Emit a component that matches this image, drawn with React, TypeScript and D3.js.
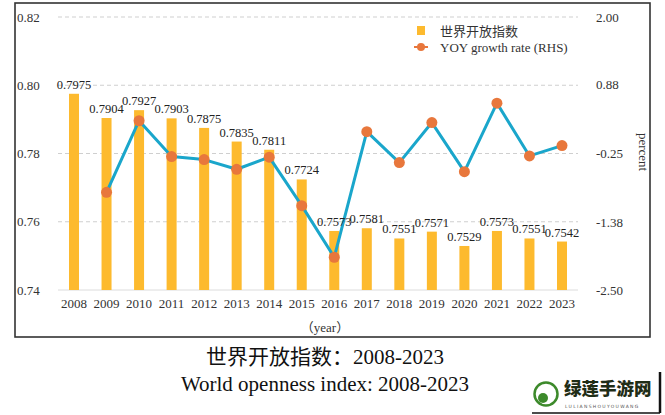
import React from "react";
import * as d3 from "d3";

const years = ["2008","2009","2010","2011","2012","2013","2014","2015","2016","2017","2018","2019","2020","2021","2022","2023"];
const indexValues = [0.7975,0.7904,0.7927,0.7903,0.7875,0.7835,0.7811,0.7724,0.7573,0.7581,0.7551,0.7571,0.7529,0.7573,0.7551,0.7542];
const growthYears = ["2009","2010","2011","2012","2013","2014","2015","2016","2017","2018","2019","2020","2021","2022","2023"];
const growthValues = [-0.89,0.29,-0.30,-0.35,-0.51,-0.31,-1.11,-1.96,0.11,-0.40,0.26,-0.55,0.58,-0.29,-0.12];
const leftTicks = [0.74,0.76,0.78,0.80,0.82];
const rightTicks = [-2.5,-1.38,-0.25,0.88,2.0];
const leftTickLabels = ["0.74","0.76","0.78","0.80","0.82"];
const rightTickLabels = ["-2.50","-1.38","-0.25","0.88","2.00"];

const W = 665, H = 415;
const serif = "'Liberation Serif', 'Times New Roman', 'Noto Sans CJK SC', serif";
const BAR = "#FDBA2E";
const LINE = "#1AA6CB";
const DOT = "#E8773C";

export default function App() {
  const x = d3.scalePoint<string>().domain(years).range([74, 562]);
  const yL = d3.scaleLinear().domain([0.74, 0.82]).range([290, 17]);
  const yR = d3.scaleLinear().domain([-2.5, 2.0]).range([290, 17]);
  const line = d3.line<number>()
    .x((_, i) => x(growthYears[i]) as number)
    .y((d) => yR(d));
  const barW = 10;

  return (
    <div style={{ position: "absolute", left: 0, top: 0 }}>
      <svg width={W} height={H} style={{ display: "block", background: "#fff" }}>
        <rect x={15} y={3} width={635} height={334} fill="none" stroke="#333" strokeWidth={1.6} />
        {leftTicks.map((t, i) => (
          <g key={"g" + i}>
            {i > 0 && (
              <line x1={58} x2={578} y1={yL(t)} y2={yL(t)} stroke="#cfcfcf" strokeDasharray="4 3" strokeWidth={1} />
            )}
            {i === 0 && (
              <line x1={58} x2={578} y1={yL(t)} y2={yL(t)} stroke="#dcdcdc" strokeWidth={1} />
            )}
            <text x={17} y={yL(t)} dy="0.35em" fontFamily={serif} fontSize={13} fill="#333">{leftTickLabels[i]}</text>
          </g>
        ))}
        {rightTicks.map((t, i) => (
          <text key={"r" + i} x={596} y={yR(t)} dy="0.35em" fontFamily={serif} fontSize={13} fill="#333">{rightTickLabels[i]}</text>
        ))}
        <text transform="translate(639,152) rotate(90)" textAnchor="middle" fontFamily={serif} fontSize={13} fill="#333">percent</text>
        {indexValues.map((v, i) => (
          <rect key={"b" + i} x={(x(years[i]) as number) - barW / 2} y={yL(v)} width={barW} height={yL(0.74) - yL(v)} fill={BAR} />
        ))}
        {years.map((yr) => (
          <text key={"x" + yr} x={x(yr) as number} y={303} dy="0.35em" textAnchor="middle" fontFamily={serif} fontSize={13} fill="#333">{yr}</text>
        ))}
        <path d={line(growthValues) || ""} fill="none" stroke={LINE} strokeWidth={3} strokeLinejoin="round" />
        {growthValues.map((v, i) => (
          <circle key={"c" + i} cx={x(growthYears[i]) as number} cy={yR(v)} r={5.5} fill={DOT} />
        ))}
        {indexValues.map((v, i) => (
          <text key={"l" + i} x={x(years[i]) as number} y={yL(v) - 5} textAnchor="middle" fontFamily={serif} fontSize={12.5} fill="#222">{v.toFixed(4)}</text>
        ))}
        <text x={325} y={327} dy="0.35em" textAnchor="middle" fontFamily={serif} fontSize={13} fill="#333">（year）</text>
        <rect x={417} y={26} width={8} height={9} fill={BAR} />
        <text x={440} y={31} dy="0.35em" fontFamily={serif} fontSize={13} fill="#333">世界开放指数</text>
        <line x1={414} x2={428} y1={47} y2={47} stroke={DOT} strokeWidth={2} />
        <circle cx={421} cy={47} r={4} fill={DOT} />
        <text x={440} y={47} dy="0.35em" fontFamily={serif} fontSize={13} fill="#333">YOY growth rate (RHS)</text>
        <text x={325} y={357} dy="0.35em" textAnchor="middle" fontFamily={serif} fontSize={21} fill="#111">世界开放指数：2008-2023</text>
        <text x={325} y={384} dy="0.35em" textAnchor="middle" fontFamily={serif} fontSize={21} fill="#111">World openness index: 2008-2023</text>
        <g>
          <line x1={532} x2={660} y1={413} y2={413} stroke="#111" strokeWidth={1.5} />
          <line x1={660} x2={660} y1={372} y2={413} stroke="#111" strokeWidth={2.5} />
          <circle cx={546} cy={394} r={11.5} fill="#fff" stroke="#3d8a2b" strokeWidth={2.5} />
          <circle cx={543} cy={398} r={5} fill="#3d8a2b" />
          <text x={564} y={389} dy="0.35em" fontFamily="'Noto Sans CJK SC', sans-serif" fontWeight={900} fontSize={17.5} fill="#1f2d16">绿莲手游网</text>
          <text x={565} y={406} dy="0.35em" fontFamily="'DejaVu Sans', sans-serif" fontSize={4.5} fill="#555" letterSpacing={1.3}>LULIANSHOUYOUWANG</text>
        </g>
      </svg>
    </div>
  );
}
